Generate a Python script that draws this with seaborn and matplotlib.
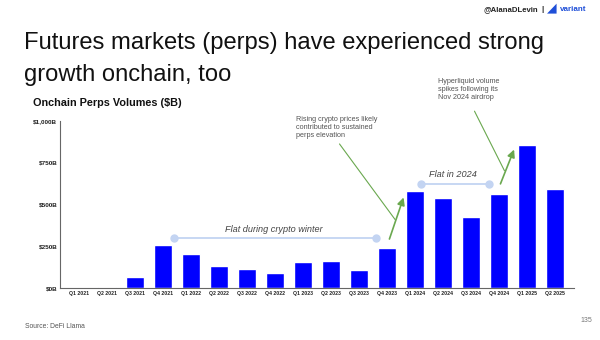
import matplotlib
matplotlib.use("Agg")
import matplotlib.pyplot as plt
import seaborn as sns
import pandas as pd

quarters = ["Q1 2021", "Q2 2021", "Q3 2021", "Q4 2021", "Q1 2022", "Q2 2022",
            "Q3 2022", "Q4 2022", "Q1 2023", "Q2 2023", "Q3 2023", "Q4 2023",
            "Q1 2024", "Q2 2024", "Q3 2024", "Q4 2024", "Q1 2025", "Q2 2025"]
volumes = [1, 5, 66, 258, 202, 132, 112, 88, 155, 162, 108, 240,
           580, 538, 426, 562, 854, 594]
ytick_vals = [0, 250, 500, 750, 1000]
ytick_labels = ["$0B", "$250B", "$500B", "$750B", "$1,000B"]

sns.set_theme(style="white")
plt.rcParams['font.family'] = ['Liberation Sans', 'DejaVu Sans']

df = pd.DataFrame({"quarter": quarters, "volume": volumes})

fig = plt.figure(figsize=(6, 3.4), dpi=100)
ax = fig.add_axes([0.1, 1 - 288 / 340, 0.857, (288 - 120.7) / 340])

sns.barplot(data=df, x="quarter", y="volume", color="#0000ff", saturation=1,
            width=0.65, ax=ax)

ax.set_xlim(-0.68, 17.68)
ax.set_ylim(0, 1000)
ax.set_yticks(ytick_vals)
ax.set_yticklabels(ytick_labels, fontsize=4.6, fontweight="bold", color="#222222")
ax.set_xticks(range(len(quarters)))
ax.set_xticklabels(quarters, fontsize=3.7, fontweight="bold", color="#222222")
ax.tick_params(axis="both", length=0, pad=2)
ax.set_xlabel("")
ax.set_ylabel("")
for s in ["top", "right"]:
    ax.spines[s].set_visible(False)
for s in ["left", "bottom"]:
    ax.spines[s].set_color("#666666")
    ax.spines[s].set_linewidth(0.8)

# flat annotations
lb = "#c3d4f2"
ax.plot([3.38, 10.6], [298, 298], color=lb, lw=1.3, marker="o", ms=5, clip_on=False)
ax.text(6.96, 347, "Flat during crypto winter", ha="center", va="center",
        fontsize=6.6, style="italic", color="#444444")
ax.plot([12.2, 14.64], [623, 623], color=lb, lw=1.3, marker="o", ms=5, clip_on=False)
ax.text(13.36, 678, "Flat in 2024", ha="center", va="center",
        fontsize=6.6, style="italic", color="#444444")

# green arrows
green = "#6aa84f"
ax.annotate("", xy=(11.62, 557), xytext=(11.05, 277),
            arrowprops=dict(arrowstyle="-|>", color=green, lw=1.2, mutation_scale=11),
            annotation_clip=False)
ax.plot([9.3, 11.29], [861, 408], color=green, lw=0.8, clip_on=False)
ax.annotate("", xy=(15.57, 843), xytext=(15.01, 607),
            arrowprops=dict(arrowstyle="-|>", color=green, lw=1.2, mutation_scale=11),
            annotation_clip=False)
ax.plot([14.12, 15.19], [1057, 701], color=green, lw=0.8, clip_on=False)

ax.text(7.75, 1030, "Rising crypto prices likely\ncontributed to sustained\nperps elevation",
        ha="left", va="top", fontsize=5.2, color="#555555", linespacing=1.2)
ax.text(12.83, 1255, "Hyperliquid volume\nspikes following its\nNov 2024 airdrop",
        ha="left", va="top", fontsize=5.2, color="#555555", linespacing=1.2)

# slide texts
fig.text(24 / 600, 1 - 49 / 340, "Futures markets (perps) have experienced strong",
         ha="left", va="baseline", fontsize=17.1, color="#111111")
fig.text(24 / 600, 1 - 81 / 340, "growth onchain, too",
         ha="left", va="baseline", fontsize=17.1, color="#111111")
fig.text(33 / 600, 1 - 103 / 340, "Onchain Perps Volumes ($B)", ha="left", va="center",
         fontsize=7.8, fontweight="bold", color="#111111")
fig.text(25 / 600, 1 - 326 / 340, "Source: DeFi Llama", ha="left", va="center",
         fontsize=4.9, color="#555555")
hy = 1 - 11 / 340
fig.text(483 / 600, hy, "@AlanaDLevin", ha="left", va="baseline",
         fontsize=5.6, fontweight="bold", color="#222222")
fig.text(542 / 600, hy, "|", ha="center", va="baseline",
         fontsize=5.6, fontweight="bold", color="#222222")
fig.text(547 / 600, hy - 0.002, "\u25e2", ha="left", va="baseline",
         fontsize=9, color="#1f4fd8", family=["DejaVu Sans"])
fig.text(560 / 600, hy, "variant", ha="left", va="baseline",
         fontsize=5.8, fontweight="bold", color="#1f4fd8")
fig.text(592 / 600, 1 - 320 / 340, "135", ha="right", va="center",
         fontsize=5, color="#777777")

fig.savefig("out.png", dpi=100)
